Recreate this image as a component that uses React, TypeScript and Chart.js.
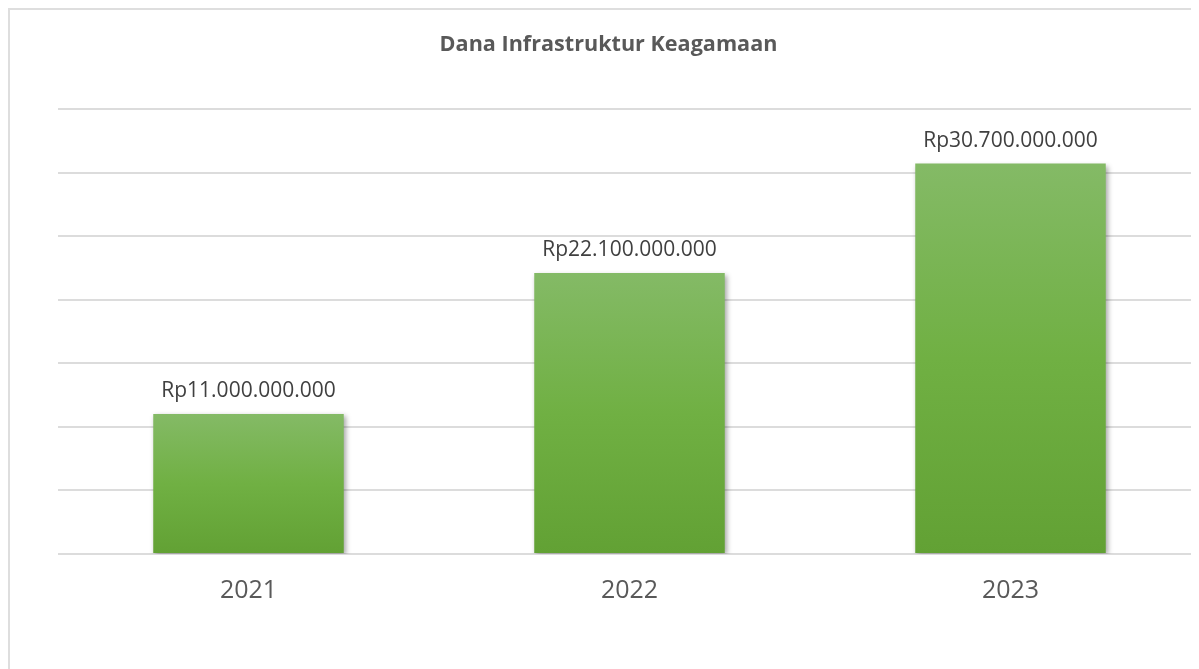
import React, { useEffect, useRef } from "react";
import { Chart, registerables } from "chart.js";

Chart.register(...registerables);

const categories: string[] = ["2021", "2022", "2023"];
const values: number[] = [11000000000, 22100000000, 30700000000];
const valueLabels: string[] = ["Rp11.000.000.000", "Rp22.100.000.000", "Rp30.700.000.000"];
const chartTitle = "Dana Infrastruktur Keagamaan";
const yMax = 35000000000;
const yStep = 5000000000;

const barShadowPlugin = {
  id: "barShadow",
  beforeDatasetsDraw(chart: any) {
    const ctx = chart.ctx;
    ctx.save();
    ctx.shadowColor = "rgba(0,0,0,0.35)";
    ctx.shadowBlur = 5;
    ctx.shadowOffsetX = 2;
    ctx.shadowOffsetY = 2;
  },
  afterDatasetsDraw(chart: any) {
    const ctx = chart.ctx;
    ctx.restore();
    const meta = chart.getDatasetMeta(0);
    ctx.save();
    ctx.font = '21px "Open Sans"';
    ctx.fillStyle = "#404040";
    ctx.textAlign = "center";
    ctx.textBaseline = "alphabetic";
    meta.data.forEach((el: any, i: number) => {
      ctx.fillText(valueLabels[i], el.x, el.y - 17);
    });
    ctx.restore();
  },
};

export default function App() {
  const ref = useRef<HTMLCanvasElement | null>(null);
  useEffect(() => {
    if (!ref.current) return;
    const chart = new Chart(ref.current, {
      type: "bar",
      data: {
        labels: categories,
        datasets: [
          {
            data: values,
            backgroundColor: (c: any) => {
              const ch = c.chart;
              const area = ch.chartArea;
              if (!area || c.dataIndex === undefined) return "#70ad47";
              const y = ch.scales.y;
              const top = y.getPixelForValue(values[c.dataIndex]);
              const bottom = y.getPixelForValue(0);
              const g = ch.ctx.createLinearGradient(0, top, 0, bottom);
              g.addColorStop(0, "#84ba66");
              g.addColorStop(0.5, "#70b043");
              g.addColorStop(1, "#62a134");
              return g;
            },
            borderWidth: 0,
            barPercentage: 0.5,
            categoryPercentage: 1.0,
          },
        ],
      },
      options: {
        animation: false,
        responsive: false,
        maintainAspectRatio: false,
        layout: { padding: { left: 6, right: 9, top: 0, bottom: 78 } },
        plugins: {
          legend: { display: false },
          tooltip: { enabled: false },
          title: {
            display: true,
            text: chartTitle,
            color: "#595959",
            font: { family: '"Open Sans"', size: 21.6, weight: "bold" },
            padding: { top: 22, bottom: 51 },
          },
        },
        scales: {
          x: {
            grid: { display: false, drawTicks: false },
            border: { display: false },
            ticks: {
              color: "#595959",
              font: { family: '"Open Sans"', size: 25 },
              padding: 22,
            },
          },
          y: {
            min: 0,
            max: yMax,
            display: true,
            ticks: { display: false, stepSize: yStep },
            grid: { color: "#dcdcdc", lineWidth: 2, drawTicks: false },
            border: { display: false },
            afterFit: (scale: any) => {
              scale.width = 42;
            },
          },
        },
      },
      plugins: [barShadowPlugin],
    });
    return () => chart.destroy();
  }, []);

  return (
    <div style={{ width: 1191, height: 661, overflow: "hidden" }}>
      <div
        style={{
          width: 1204,
          height: 700,
          border: "2px solid #dedede",
          boxSizing: "border-box",
          background: "#fff",
        }}
      >
        <canvas ref={ref} width={1200} height={696} style={{ display: "block", width: 1200, height: 696 }} />
      </div>
    </div>
  );
}
